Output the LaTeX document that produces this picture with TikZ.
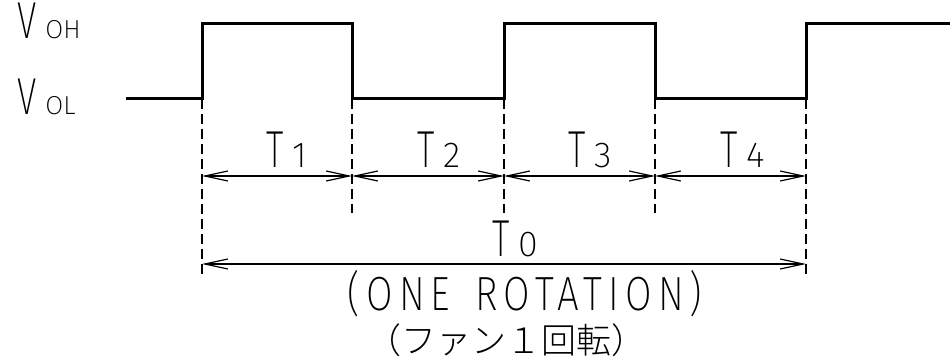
\documentclass[tikz,border=0pt]{standalone}
\usepackage{fontspec}
\setmainfont{Fira Sans ExtraLight}
\newfontfamily\jpfont{Noto Sans CJK JP Light}
\usetikzlibrary{arrows.meta,positioning}

% letter with a small index set on the same base line
\newcommand{\lbl}[3][36]{\scalebox{0.68}[1]{\fontsize{52}{52}\selectfont #2}\hspace{9pt}{\fontsize{#1}{#1}\selectfont #3}}

\begin{document}
\begin{tikzpicture}[x=1pt, y=-1pt,
    signal/.style={line width=3pt, line join=miter},
    guide/.style={line width=1.5pt, dash pattern=on 10pt off 5pt},
    dim/.style={line width=1.2pt, {Straight Barb[length=23pt,width=10pt]}-{Straight Barb[length=23pt,width=10pt]}},
    lab/.style={inner sep=0pt, anchor=base west}]
    \useasboundingbox (0,0) rectangle (950,358);

    % pulse edges
    \foreach \n/\x in {0/202,1/352,2/504,3/655,4/806}{
        \coordinate (lo\n) at (\x,99);
        \coordinate (hi\n) at (\x,24);
        \coordinate (sh\n) at (\x,213);
        \coordinate (lg\n) at (\x,278);
        \coordinate (d\n) at (\x,176);
        \coordinate (t\n) at (\x,264);
    }
    \coordinate (start) at (126,99);
    \coordinate (end) at (952,24);

    \draw[signal] (start) -- (lo0) -- (hi0) -- (hi1) -- (lo1) -- (lo2) -- (hi2) -- (hi3) -- (lo3) -- (lo4) -- (hi4) -- (end);

    \draw[guide] (lo0) -- (lg0);
    \draw[guide] (lo4) -- (lg4);
    \foreach \n in {1,2,3}
        \draw[guide] (lo\n) -- (sh\n);

    \draw[dim] (d0) -- (d1);
    \draw[dim] (d1) -- (d2);
    \draw[dim] (d2) -- (d3);
    \draw[dim] (d3) -- (d4);
    \draw[dim] (t0) -- (t4);

    \node[lab] (voh) at (17,39) {\lbl[26]{V}{OH}};
    \node[lab] (vol) at (17,115) {\lbl[26]{V}{OL}};

    \node[lab] (tone) at (266,168) {\lbl{T}{1}};
    \node[lab] (ttwo) at (417,168) {\lbl{T}{2}};
    \node[lab] (tthree) at (568,168) {\lbl{T}{3}};
    \node[lab] (tfour) at (720,168) {\lbl{T}{4}};
    \node[lab] (tzero) at (492,256) {\lbl{T}{0}};

    \node[inner sep=0pt, anchor=base] (rot) at (525,310) {\scalebox{0.8}[1]{\fontsize{48}{48}\selectfont\addfontfeature{LetterSpace=16}(\hspace{8pt}ONE\hspace{10pt} ROTATION)}};
    \node[inner sep=0pt, anchor=base] (jp) at (506,353) {\jpfont\fontsize{35}{35}\selectfont （ファン１回転）};
\end{tikzpicture}
\end{document}
